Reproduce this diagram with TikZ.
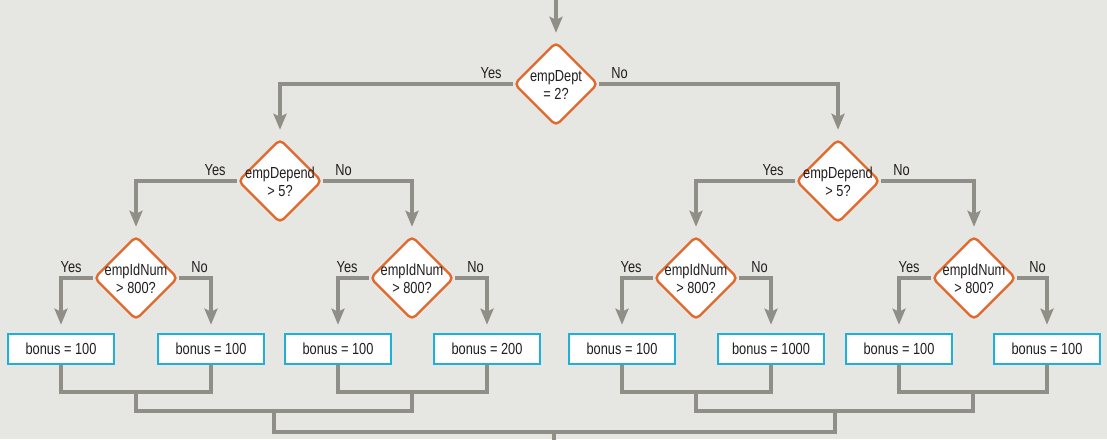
\documentclass[tikz,border=0pt]{standalone}
\usepackage{fontspec}
\setmainfont{Liberation Sans}[FakeStretch=0.8]
\usetikzlibrary{shapes.geometric,arrows.meta}
\definecolor{bg}{HTML}{E6E6E3}
\definecolor{ln}{HTML}{8F8F88}
\definecolor{org}{HTML}{E2682B}
\definecolor{cyn}{HTML}{1DB1D8}
\definecolor{txt}{HTML}{231F20}
\tikzset{
  dia/.style={diamond, draw=org, line width=2.4pt, fill=white, rounded corners=5pt,
    minimum width=84pt, minimum height=84pt, inner sep=0pt},
  dtext/.style={align=center, font=\fontsize{16}{18}\selectfont, text=txt, inner sep=0pt},
  box/.style={rectangle, draw=cyn, line width=2.6pt, fill=white, minimum width=106pt,
    minimum height=30pt, inner sep=0pt, font=\fontsize{16}{18}\selectfont, text=txt},
  conn/.style={draw=ln, line width=3.2pt},
  arr/.style={conn, -{Stealth[length=16pt,width=13pt,inset=3pt]}, shorten >=8pt},
  lbl/.style={font=\fontsize{16}{18}\selectfont, text=txt, inner sep=0pt},
}
\begin{document}
\begin{tikzpicture}[x=1pt,y=1pt]
\fill[bg] (0,0) rectangle (1107,-439);
\useasboundingbox (0,0) rectangle (1107,-439);
% diamonds
\node[dia] (d1) at (556,-84) {};
\node[dtext] at ([yshift=-1pt]d1) {empDept\\= 2?};
\node[dia] (d2) at (280,-181) {};
\node[dtext] at ([yshift=-1pt]d2) {empDepend\\> 5?};
\node[dia] (d3) at (838,-181) {};
\node[dtext] at ([yshift=-1pt]d3) {empDepend\\> 5?};
\node[dia] (e1) at (136,-278) {};
\node[dtext] at ([yshift=-1pt]e1) {empIdNum\\> 800?};
\node[dia] (e2) at (412,-278) {};
\node[dtext] at ([yshift=-1pt]e2) {empIdNum\\> 800?};
\node[dia] (e3) at (696,-278) {};
\node[dtext] at ([yshift=-1pt]e3) {empIdNum\\> 800?};
\node[dia] (e4) at (974,-278) {};
\node[dtext] at ([yshift=-1pt]e4) {empIdNum\\> 800?};
% boxes
\node[box] (b1) at (61,-349) {bonus = 100};
\node[box] (b2) at (211,-349) {bonus = 100};
\node[box] (b3) at (338,-349) {bonus = 100};
\node[box] (b4) at (487,-349) {bonus = 200};
\node[box] (b5) at (622,-349) {bonus = 100};
\node[box] (b6) at (771,-349) {bonus = 1000};
\node[box] (b7) at (899,-349) {bonus = 100};
\node[box] (b8) at (1047,-349) {bonus = 100};
% top arrow
\coordinate (start) at (556,0);
\draw[arr] (start) -- (d1.north);
% branches
\draw[arr] (d1.west) -| (d2.north);
\draw[arr] (d1.east) -| (d3.north);
\draw[arr] (d2.west) -| (e1.north);
\draw[arr] (d2.east) -| (e2.north);
\draw[arr] (d3.west) -| (e3.north);
\draw[arr] (d3.east) -| (e4.north);
\draw[arr] (e1.west) -| (b1.north);
\draw[arr] (e1.east) -| (b2.north);
\draw[arr] (e2.west) -| (b3.north);
\draw[arr] (e2.east) -| (b4.north);
\draw[arr] (e3.west) -| (b5.north);
\draw[arr] (e3.east) -| (b6.north);
\draw[arr] (e4.west) -| (b7.north);
\draw[arr] (e4.east) -| (b8.north);
% labels
\foreach \d in {d1,d2,d3,e1,e2,e3,e4}{
  \node[lbl, anchor=base east] at ([xshift=-11pt,yshift=6pt]\d.west) {Yes};
  \node[lbl, anchor=base west] at ([xshift=12pt,yshift=6pt]\d.east) {No};
}
% merge lines
\coordinate (m1) at (136,-392);
\coordinate (m2) at (412,-392);
\coordinate (m3) at (696,-392);
\coordinate (m4) at (973,-392);
\coordinate (n1) at (274,-411);
\coordinate (n2) at (835,-411);
\coordinate (p) at (554,-432);
\coordinate (end) at (554,-440);
\draw[conn] (b1.south) |- (m1) -| (b2.south);
\draw[conn] (b3.south) |- (m2) -| (b4.south);
\draw[conn] (b5.south) |- (m3) -| (b6.south);
\draw[conn] (b7.south) |- (m4) -| (b8.south);
\draw[conn] (m1) |- (n1) -| (m2);
\draw[conn] (m3) |- (n2) -| (m4);
\draw[conn] (n1) |- (p) -| (n2);
\draw[conn] (p) -- (end);
\end{tikzpicture}
\end{document}
